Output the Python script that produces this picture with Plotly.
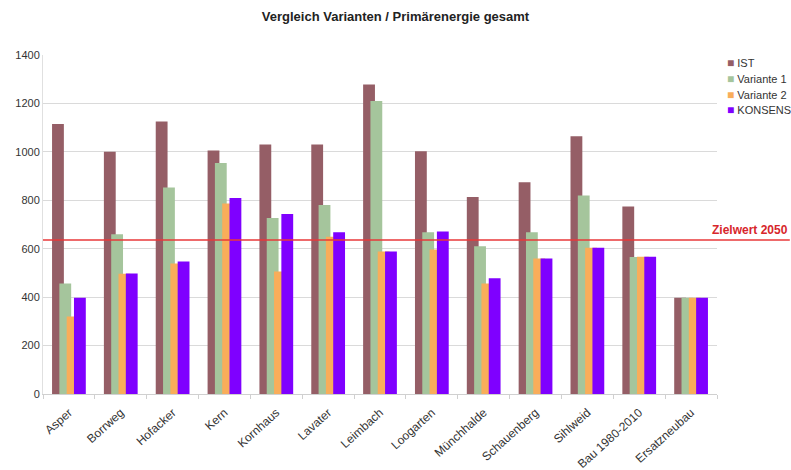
import plotly.graph_objects as go

# Primärenergie je Siedlung und Variante
sites = ["Asper", "Borrweg", "Hofacker", "Kern", "Kornhaus", "Lavater", "Leimbach",
         "Loogarten", "Münchhalde", "Schauenberg", "Sihlweid", "Bau 1980-2010", "Ersatzneubau"]
ist = [1115, 1000, 1125, 1006, 1030, 1030, 1278, 1002, 814, 874, 1064, 774, 398]
variante1 = [456, 660, 853, 954, 727, 781, 1210, 668, 610, 668, 820, 566, 398]
variante2 = [320, 497, 539, 787, 506, 649, 589, 597, 456, 560, 604, 567, 398]
konsens = [397, 498, 547, 809, 743, 668, 589, 671, 478, 560, 604, 567, 398]
zielwert_2050 = 636

series = [
    ("IST", ist, "#955E66"),
    ("Variante 1", variante1, "#A5C59C"),
    ("Variante 2", variante2, "#F9AD5A"),
    ("KONSENS", konsens, "#7F00FF"),
]

FONT = "Liberation Sans, Arial, Helvetica, sans-serif"
bar_w = 0.228
step = 0.141
start = -(bar_w + 3 * step) / 2

fig = go.Figure()
for i, (name, vals, color) in enumerate(series):
    fig.add_trace(go.Bar(
        x=sites, y=vals, name=name,
        marker=dict(color=color, line=dict(width=0)),
        width=bar_w, offset=start + i * step,
        showlegend=False,
    ))

# kompakte Legende rechts neben der Grafik
for i, (name, vals, color) in enumerate(series):
    fig.add_annotation(
        xref="paper", yref="paper", x=1.012, y=0.976 - i * 0.0465,
        xanchor="left", yanchor="middle", showarrow=False,
        text=f'<span style="color:{color};font-size:12px">■</span> {name}',
        font=dict(family=FONT, size=11, color="#333"),
    )

# Zielwert-Linie über die ganze Breite bis zur Beschriftung
fig.add_shape(type="line", xref="paper", yref="y", x0=0, x1=1.108,
              y0=zielwert_2050, y1=zielwert_2050,
              line=dict(color="#E8393A", width=1.5))
fig.add_annotation(xref="paper", yref="y", x=1.108, y=zielwert_2050,
                   text="<b>Zielwert 2050</b>", showarrow=False,
                   xanchor="right", yanchor="bottom", yshift=1,
                   font=dict(family=FONT, size=12, color="#D7262B"))

fig.update_layout(
    width=791, height=470,
    margin=dict(l=43, r=74, t=55, b=76, autoexpand=False),
    barmode="overlay",
    paper_bgcolor="white", plot_bgcolor="white",
    title=dict(text="<b>Vergleich Varianten / Primärenergie gesamt</b>",
               x=0.5, xanchor="center", y=0.965, yanchor="middle",
               font=dict(family=FONT, size=13, color="#222")),
    font=dict(family=FONT, size=11, color="#333"),
    showlegend=False,
)
fig.update_xaxes(
    type="category", tickangle=-42, tickson="boundaries",
    ticks="outside", ticklen=4, tickcolor="#D0D0D0",
    ticklabelstandoff=6,
    showline=True, linecolor="#D0D0D0", linewidth=1,
    showgrid=False, tickfont=dict(family=FONT, size=12, color="#333"),
)
fig.update_yaxes(
    range=[0, 1400], dtick=200, showgrid=True, gridcolor="#DADADA",
    showline=True, linecolor="#E0E0E0", zeroline=False,
    ticks="", tickfont=dict(family=FONT, size=11, color="#333"),
)

fig.write_html("out.html")
